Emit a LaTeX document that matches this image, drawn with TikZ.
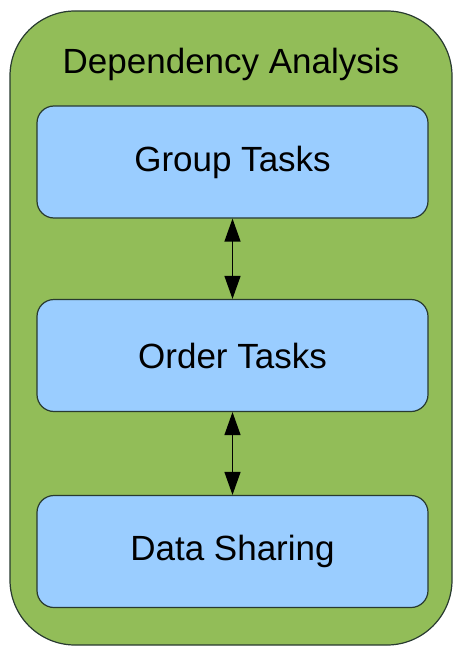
\documentclass[tikz,border=0pt]{standalone}
\usepackage{fontspec}
\setmainfont{Liberation Sans}
\usetikzlibrary{arrows.meta}
\definecolor{boxgreen}{RGB}{146,189,88}
\definecolor{boxblue}{RGB}{154,205,255}
\definecolor{edge1}{RGB}{40,58,48}

\begin{document}
\begin{tikzpicture}[x=1pt,y=-1pt,
  task/.style={draw=edge1,line width=1.2pt,fill=boxblue,rounded corners=17pt,
    minimum width=391pt,minimum height=112pt,inner sep=0pt,
    font=\fontsize{35}{40}\selectfont},
  link/.style={line width=1.3pt,
    {Triangle[width=16pt,length=23pt]}-{Triangle[width=16pt,length=23pt]}}]
  \useasboundingbox (0,0) rectangle (454,647);
  % outer frame
  \draw[edge1,line width=1.2pt,fill=boxgreen,rounded corners=65pt]
    (10,11) rectangle (452,645);
  \node[anchor=base,font=\fontsize{35}{40}\selectfont] (title) at (231,74) {Dependency Analysis};
  % tasks
  \node[task] (group) at (232.5,162) {Group Tasks};
  \node[task] (order) at (232.5,355.5) {Order Tasks};
  \node[task] (sharing) at (232.5,551.5) {Data Sharing};
  \draw[link] (group.south) -- (order.north);
  \draw[link] (order.south) -- (sharing.north);
\end{tikzpicture}
\end{document}
